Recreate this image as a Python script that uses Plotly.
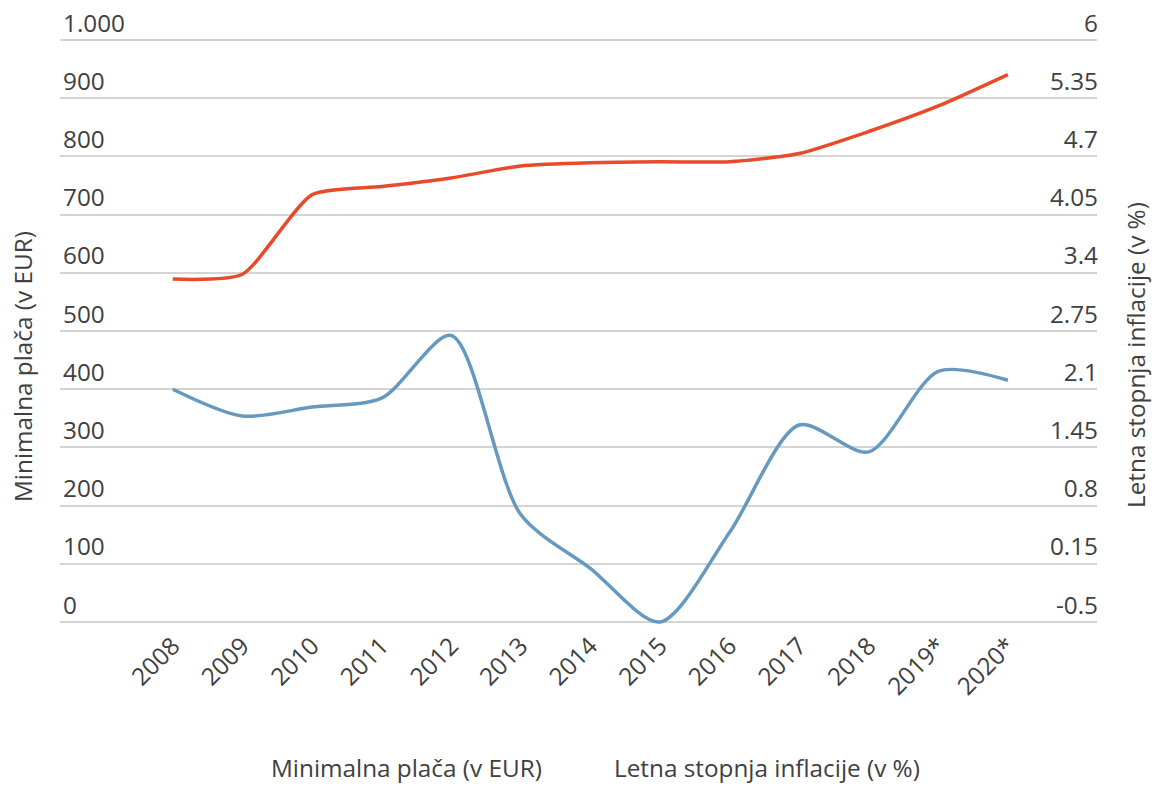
import plotly.graph_objects as go

years = ["2008", "2009", "2010", "2011", "2012", "2013", "2014", "2015", "2016", "2017", "2018", "2019*", "2020*"]
min_wage = [589.19, 597.43, 734.15, 748.10, 763.06, 783.66, 789.15, 790.73, 790.73, 804.96, 842.79, 886.63, 940.58]
inflation = [2.1, 1.8, 1.9, 2.0, 2.7, 0.7, 0.1, -0.5, 0.5, 1.7, 1.4, 2.3, 2.2]

left_ticks = [0, 100, 200, 300, 400, 500, 600, 700, 800, 900, 1000]
left_text = ["0", "100", "200", "300", "400", "500", "600", "700", "800", "900", "1.000"]
right_ticks = [-0.5, 0.15, 0.8, 1.45, 2.1, 2.75, 3.4, 4.05, 4.7, 5.35, 6]
right_text = ["-0.5", "0.15", "0.8", "1.45", "2.1", "2.75", "3.4", "4.05", "4.7", "5.35", "6"]

name_wage = "Minimalna plača (v EUR)"
name_infl = "Letna stopnja inflacije (v %)"

FONT = "Open Sans"
TXT = "#404040"
FS = 24.3

# layout geometry (pixels)
W, H = 1154, 785
PL, PR = 60, 1097          # plot left / right
PT, PB = 0, 626            # plot top / bottom
Y0, Y1000 = 622, 40        # pixel of value 0 and 1000 on left axis
ppu = (Y0 - Y1000) / 1000.0
l_lo = -(PB - Y0) / ppu
l_hi = 1000 + (Y1000 - PT) / ppu
scale = 6.5 / 1000.0       # right axis units per left unit
r_lo = -0.5 + l_lo * scale
r_hi = -0.5 + l_hi * scale
PH = PB - PT
PW = PR - PL


def px_x(x):
    return (x - PL) / PW


def px_y(y):
    return (PB - y) / PH


fig = go.Figure()
fig.add_trace(go.Scatter(x=years, y=min_wage, name=name_wage, mode="lines",
                         line=dict(color="#E84A2A", width=3.5, shape="spline", smoothing=0.6),
                         yaxis="y"))
fig.add_trace(go.Scatter(x=years, y=inflation, name=name_infl, mode="lines",
                         line=dict(color="#6699BF", width=3.5, shape="spline", smoothing=0.8),
                         yaxis="y2"))

fig.update_layout(
    width=W, height=H,
    margin=dict(l=PL, r=W - PR, t=PT, b=H - PB, autoexpand=False),
    paper_bgcolor="white", plot_bgcolor="white",
    showlegend=False,
    font=dict(family=FONT, color=TXT, size=FS),
    xaxis=dict(type="category", range=[-1.62, 13.28], tickangle=-45, automargin=False,
               showgrid=False, zeroline=False, showline=False, ticks="",
               tickfont=dict(size=FS, color=TXT)),
    yaxis=dict(range=[l_lo, l_hi], tickvals=left_ticks, ticktext=left_text, automargin=False,
               ticklabelposition="inside top",
               showgrid=True, gridcolor="#D4D4D4",
               gridwidth=2, zeroline=False, showline=False, ticks="",
               tickfont=dict(size=FS, color=TXT)),
    yaxis2=dict(range=[r_lo, r_hi], tickvals=right_ticks, ticktext=right_text, automargin=False,
                overlaying="y", side="right", ticklabelposition="inside top", ticklabelstandoff=-4,
                showgrid=False, zeroline=False, showline=False, ticks="",
                tickfont=dict(size=FS, color=TXT)),
)

# axis titles
fig.add_annotation(text=name_wage, xref="paper", yref="paper", x=px_x(22), xanchor="center",
                   y=px_y(367), yanchor="middle", textangle=-90, showarrow=False,
                   font=dict(size=FS, color=TXT))
fig.add_annotation(text=name_infl, xref="paper", yref="paper", x=px_x(1135), xanchor="center",
                   y=px_y(355), yanchor="middle", textangle=-90, showarrow=False,
                   font=dict(size=FS, color=TXT))
# legend texts
fig.add_annotation(text=name_wage, xref="paper", yref="paper", x=px_x(270), xanchor="left",
                   y=px_y(785), yanchor="bottom", showarrow=False, borderpad=0,
                   font=dict(size=FS, color=TXT))
fig.add_annotation(text=name_infl, xref="paper", yref="paper", x=px_x(613), xanchor="left",
                   y=px_y(785), yanchor="bottom", showarrow=False, borderpad=0,
                   font=dict(size=FS, color=TXT))

fig.write_html("out.html", config={"displayModeBar": False},
               post_script="document.body.style.margin='0';")
